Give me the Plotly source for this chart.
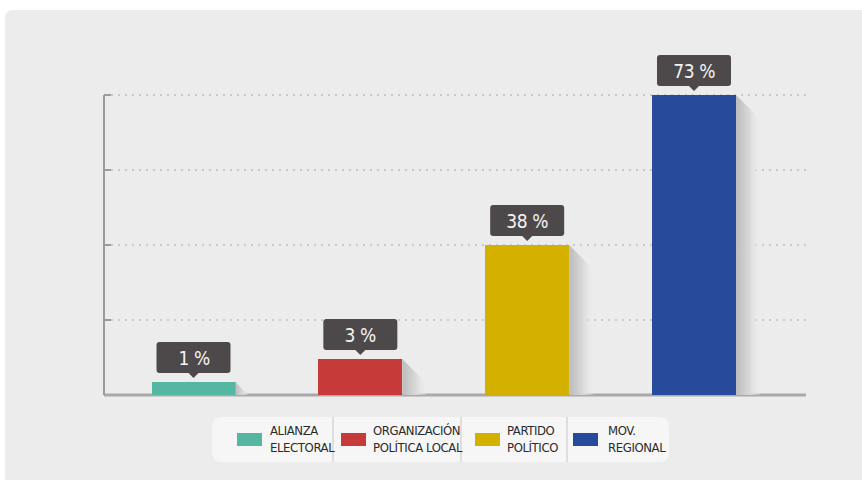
import plotly.graph_objects as go

# ---------------- data ----------------
categories = ["ALIANZA ELECTORAL", "ORGANIZACIÓN POLÍTICA LOCAL", "PARTIDO POLÍTICO", "MOV. REGIONAL"]
legend_labels = ["ALIANZA<br>ELECTORAL", "ORGANIZACIÓN<br>POLÍTICA LOCAL", "PARTIDO<br>POLÍTICO", "MOV.<br>REGIONAL"]
value_labels = ["1 %", "3 %", "38 %", "73 %"]
# drawn bar heights (axis units, gridlines at 25/50/75/100)
bar_heights = [4.3, 12.0, 50.0, 100.0]
colors = ["#55b6a1", "#c73a3a", "#d4b000", "#284a9a"]

# ---------------- layout constants ----------------
W, H = 862, 480
PL, PR, PT, PB = 104, 806, 40, 395          # plot area in pixels
XR = [-0.5365, 3.6713]                      # category index range
YR = [0, 100 * (PB - PT) / 300]             # 3 px per unit
UNIT_X = (PR - PL) / (XR[1] - XR[0])        # px per category unit
UNIT_Y = (PB - PT) / (YR[1] - YR[0])        # px per y unit
BAR_W = 84 / UNIT_X
SHADOW_PX = 24
FONT = "DejaVu Sans, sans-serif"


def px(x):
    return (x - PL) / (PR - PL)


def py(y):
    return (PB - y) / (PB - PT)


fig = go.Figure()

# shadows (gradient fills) on an overlaying linear axis
for i, h in enumerate(bar_heights):
    xr = i + BAR_W / 2
    sw = SHADOW_PX / UNIT_X
    dy = SHADOW_PX / UNIT_Y
    if h >= dy:
        xs = [xr, xr + sw, xr + sw, xr, xr]
        ys = [h, h - dy, 0, 0, h]
    else:
        xs = [xr, xr + sw * h / dy, xr, xr]
        ys = [h, 0, 0, h]
    fig.add_trace(go.Scatter(
        x=xs, y=ys, xaxis="x2", mode="lines", line=dict(width=0),
        fill="toself",
        fillgradient=dict(type="horizontal",
                          colorscale=[[0, "#bcbcbc"], [0.55, "#d8d8d8"],
                                      [1, "rgba(236,236,236,0.2)"]]),
        hoverinfo="skip", showlegend=False))

fig.add_trace(go.Bar(
    x=categories, y=bar_heights, marker=dict(color=colors, line=dict(width=0)),
    width=BAR_W, showlegend=False, hovertext=value_labels, hoverinfo="text"))

shapes = []
# panel background
r = 8
shapes.append(dict(
    type="path", xref="paper", yref="paper", layer="below", line=dict(width=0),
    fillcolor="#ececec",
    path=(f"M{px(5)},{py(490)} L{px(5)},{py(10 + r)} Q{px(5)},{py(10)} {px(5 + r)},{py(10)} "
          f"L{px(870)},{py(10)} L{px(870)},{py(490)} Z")))
# baseline and vertical axis line
shapes.append(dict(type="line", xref="paper", yref="paper", x0=0, x1=1, y0=0, y1=0,
                   line=dict(color="#a9a9a9", width=3), layer="between"))
shapes.append(dict(type="line", xref="paper", yref="paper", x0=0, x1=0, y0=0, y1=py(95),
                   line=dict(color="#9b9b9b", width=2), layer="above"))

# value label boxes
bx0, bx1, by0, by1, br = -37, 37, 9, 40, 3
box_path = (f"M{bx0 + br},{by0} L{bx1 - br},{by0} Q{bx1},{by0} {bx1},{by0 + br} "
            f"L{bx1},{by1 - br} Q{bx1},{by1} {bx1 - br},{by1} L{bx0 + br},{by1} "
            f"Q{bx0},{by1} {bx0},{by1 - br} L{bx0},{by0 + br} Q{bx0},{by0} {bx0 + br},{by0} Z "
            f"M-5,{by0} L5,{by0} L0,{by0 - 5} Z")
annotations = []
for cat, h, lab in zip(categories, bar_heights, value_labels):
    shapes.append(dict(type="path", xref="x", yref="y", xsizemode="pixel", ysizemode="pixel",
                       xanchor=cat, yanchor=h, path=box_path, fillcolor="#4d494a",
                       line=dict(width=0), layer="above"))
    annotations.append(dict(x=cat, y=h, xref="x", yref="y", yshift=(by0 + by1) / 2,
                            text=lab, showarrow=False, yanchor="middle",
                            font=dict(family=FONT, size=19, color="#f4f4f4")))

# custom legend
LEG_X0, LEG_X1, LEG_Y0, LEG_Y1, LR = 212, 669, 417, 462, 10
shapes.append(dict(
    type="path", xref="paper", yref="paper", line=dict(width=0), fillcolor="#f6f6f6",
    layer="above",
    path=(f"M{px(LEG_X0 + LR)},{py(LEG_Y0)} L{px(LEG_X1 - LR)},{py(LEG_Y0)} "
          f"Q{px(LEG_X1)},{py(LEG_Y0)} {px(LEG_X1)},{py(LEG_Y0 + LR)} "
          f"L{px(LEG_X1)},{py(LEG_Y1 - LR)} Q{px(LEG_X1)},{py(LEG_Y1)} {px(LEG_X1 - LR)},{py(LEG_Y1)} "
          f"L{px(LEG_X0 + LR)},{py(LEG_Y1)} Q{px(LEG_X0)},{py(LEG_Y1)} {px(LEG_X0)},{py(LEG_Y1 - LR)} "
          f"L{px(LEG_X0)},{py(LEG_Y0 + LR)} Q{px(LEG_X0)},{py(LEG_Y0)} {px(LEG_X0 + LR)},{py(LEG_Y0)} Z")))
LEG_SEPS = [333, 461, 567]
for sx in LEG_SEPS:
    shapes.append(dict(type="line", xref="paper", yref="paper", x0=px(sx), x1=px(sx),
                       y0=py(LEG_Y0), y1=py(LEG_Y1), line=dict(color="#dedede", width=2),
                       layer="above"))
LEG_SWATCH_X = [237, 341, 475, 573]
LEG_TEXT_X = [268, 371, 505, 606]
for sx, tx, col, lab in zip(LEG_SWATCH_X, LEG_TEXT_X, colors, legend_labels):
    shapes.append(dict(type="rect", xref="paper", yref="paper", x0=px(sx), x1=px(sx + 25),
                       y0=py(446), y1=py(433), fillcolor=col, line=dict(width=0),
                       layer="above"))
    annotations.append(dict(x=px(tx), y=py(439), xref="paper", yref="paper",
                            xanchor="left", yanchor="middle", align="left", text=lab,
                            showarrow=False,
                            font=dict(family=FONT, size=13, color="#2a2a2a")))

fig.update_layout(
    width=W, height=H, margin=dict(l=PL, r=W - PR, t=PT, b=H - PB),
    paper_bgcolor="white", plot_bgcolor="rgba(0,0,0,0)",
    showlegend=False, bargap=0,
    xaxis=dict(type="category", range=XR, showgrid=False, showticklabels=False,
               zeroline=False, showline=False, ticks="", fixedrange=True),
    xaxis2=dict(overlaying="x", range=XR, visible=False, fixedrange=True),
    yaxis=dict(range=YR, tickvals=[25, 50, 75, 100], showticklabels=False,
               ticks="inside", ticklen=7, tickwidth=2, tickcolor="#9b9b9b",
               showgrid=True, gridcolor="#c9c9c9", griddash="2px,5px", gridwidth=2,
               zeroline=False, showline=False, fixedrange=True),
    shapes=shapes, annotations=annotations,
)

post = ("document.body.style.margin='0px';"
        "var st=document.createElement('style');"
        "st.textContent='.annotation-text{font-stretch:condensed !important;"
        "letter-spacing:-0.4px;}';"
        "document.head.appendChild(st);")

fig.write_html("out.html", config={"displayModeBar": False}, post_script=post)
